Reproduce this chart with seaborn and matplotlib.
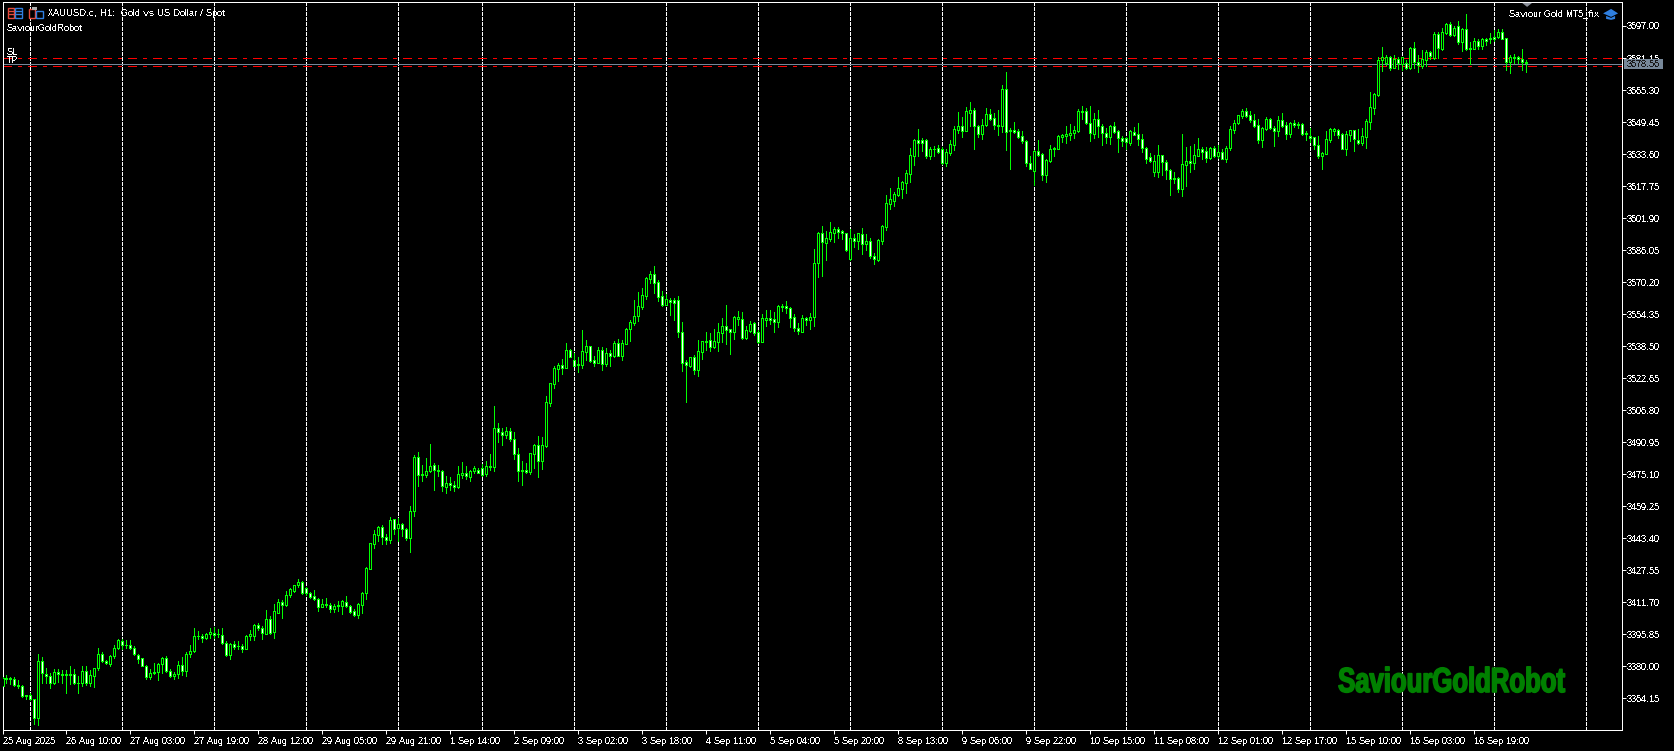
import matplotlib
matplotlib.use("Agg")
import matplotlib.pyplot as plt
from matplotlib.patches import Polygon, Rectangle
from matplotlib.patheffects import AbstractPathEffect
from matplotlib.transforms import Affine2D
import numpy as np
import pandas as pd
import seaborn as sns

# ------------------------------
# XAUUSD.c H1 candles
# ------------------------------
open_prices = [
    3370.1,3374.4,3374.2,3373.9,3370.9,3370.4,3365.6,3366.0,3364.0,3354.6,
    3382.8,3376.2,3375.4,3371.7,3377.2,3376.4,3376.4,3376.4,3376.4,3371.9,
    3371.7,3377.5,3371.7,3375.4,3379.0,3386.3,3382.8,3381.3,3384.9,3389.2,
    3392.7,3390.7,3390.7,3389.2,3385.8,3384.0,3380.2,3374.7,3376.7,3377.4,
    3381.0,3384.3,3377.9,3375.4,3376.2,3380.8,3377.7,3386.1,3387.6,3395.2,
    3395.2,3393.9,3396.2,3396.7,3396.2,3395.7,3391.7,3385.4,3391.2,3390.2,
    3390.2,3388.6,3395.2,3394.9,3400.6,3399.0,3396.2,3403.6,3397.0,3406.6,
    3412.0,3410.4,3415.2,3417.1,3420.0,3421.9,3418.5,3416.5,3414.7,3413.5,
    3409.4,3411.0,3410.5,3408.2,3409.9,3409.9,3412.0,3409.9,3407.2,3405.6,
    3410.2,3416.5,3428.2,3440.6,3444.9,3448.7,3443.8,3442.4,3452.7,3448.6,
    3450.2,3447.7,3443.6,3457.0,3483.4,3475.0,3474.8,3476.8,3479.4,3477.4,
    3476.8,3468.9,3470.5,3469.9,3468.7,3474.8,3475.5,3473.8,3476.8,3477.4,
    3477.9,3475.1,3478.9,3478.8,3497.8,3495.8,3494.6,3496.3,3492.6,3485.2,
    3477.4,3477.4,3476.3,3485.2,3489.7,3481.7,3489.0,3510.5,3519.9,3527.3,
    3528.9,3527.6,3536.8,3531.4,3529.4,3529.3,3535.7,3538.3,3531.4,3530.2,
    3536.8,3529.6,3534.9,3533.5,3539.8,3533.7,3539.7,3547.1,3550.1,3553.4,
    3558.0,3563.4,3571.8,3574.0,3570.0,3563.1,3559.0,3561.4,3561.3,3561.1,
    3545.6,3530.6,3528.6,3533.0,3526.8,3535.7,3541.0,3541.3,3538.2,3540.6,
    3545.1,3548.2,3546.8,3545.6,3552.0,3552.0,3542.5,3545.9,3549.7,3545.3,
    3540.6,3551.5,3552.2,3552.0,3550.6,3557.8,3558.1,3557.5,3552.7,3547.6,
    3545.6,3552.2,3551.5,3553.0,3579.8,3594.3,3589.7,3591.7,3594.6,3596.5,
    3595.3,3594.3,3581.8,3591.8,3590.5,3593.8,3589.0,3590.3,3582.9,3581.1,
    3590.7,3597.6,3609.0,3610.3,3613.5,3616.4,3619.4,3623.9,3632.8,3640.4,
    3640.4,3640.4,3632.7,3636.3,3636.4,3636.0,3629.3,3634.3,3638.1,3645.7,
    3647.3,3645.2,3653.9,3655.3,3647.3,3643.7,3647.7,3653.3,3651.3,3647.2,
    3647.2,3665.7,3645.4,3645.4,3645.0,3642.4,3639.9,3629.0,3625.4,3634.9,
    3633.5,3623.4,3630.2,3636.0,3636.3,3642.2,3642.7,3643.2,3643.9,3645.0,
    3654.4,3654.9,3648.8,3643.7,3650.8,3647.5,3644.2,3642.1,3647.3,3644.9,
    3641.4,3641.7,3638.9,3644.4,3643.4,3640.9,3636.8,3632.0,3624.9,3624.7,
    3633.0,3629.8,3625.7,3621.8,3621.8,3616.5,3628.2,3630.0,3628.9,3632.8,
    3636.0,3635.0,3631.8,3636.4,3632.7,3634.5,3631.2,3636.4,3645.7,3648.7,
    3652.6,3654.8,3652.8,3650.3,3647.8,3640.6,3646.0,3650.8,3646.7,3644.9,
    3650.3,3647.8,3643.7,3648.8,3648.5,3648.3,3643.8,3642.3,3641.9,3637.9,
    3632.8,3633.8,3640.7,3645.2,3645.3,3643.3,3636.1,3643.2,3645.3,3640.7,
    3639.0,3642.2,3649.6,3656.6,3662.8,3680.0,3678.5,3681.8,3676.4,3680.7,
    3678.2,3678.5,3676.4,3686.1,3679.0,3676.9,3680.2,3684.0,3681.0,3693.1,
    3685.8,3693.4,3698.0,3692.6,3697.0,3688.8,3695.4,3686.1,3685.8,3689.4,
    3687.1,3690.4,3690.4,3691.7,3691.4,3693.9,3690.9,3678.9,3681.8,3681.5,
    3680.5,3679.2,
]
high_prices = [
    3374.7,3375.9,3374.5,3374.9,3373.1,3370.6,3366.0,3367.0,3364.0,3386.3,
    3384.6,3379.0,3376.7,3378.8,3378.8,3378.0,3378.0,3380.0,3378.8,3375.0,
    3380.0,3380.0,3378.3,3379.3,3389.2,3387.3,3383.3,3385.6,3390.6,3393.4,
    3393.7,3392.9,3393.2,3389.9,3386.3,3384.3,3380.7,3378.8,3381.8,3381.6,
    3384.8,3385.0,3378.8,3377.2,3382.8,3384.6,3386.9,3390.4,3398.7,3397.3,
    3395.8,3396.5,3398.7,3399.5,3398.5,3398.7,3392.7,3391.6,3392.4,3392.4,
    3391.2,3395.4,3397.8,3401.0,3401.6,3399.8,3407.7,3404.8,3411.0,3413.5,
    3412.7,3417.3,3418.5,3420.1,3423.1,3422.3,3419.0,3416.7,3417.6,3414.0,
    3413.5,3413.7,3411.4,3410.7,3412.4,3412.7,3414.7,3410.5,3408.4,3411.4,
    3416.7,3428.9,3441.0,3447.4,3449.4,3449.9,3445.4,3453.7,3453.0,3453.2,
    3450.9,3448.2,3459.3,3484.5,3486.0,3479.4,3483.1,3490.0,3480.6,3479.4,
    3477.1,3474.1,3473.6,3471.7,3479.1,3481.1,3479.1,3477.4,3479.1,3477.9,
    3480.1,3481.4,3485.0,3508.8,3500.2,3497.8,3498.4,3497.8,3495.8,3488.0,
    3481.4,3480.6,3485.5,3490.0,3494.0,3493.3,3513.8,3520.2,3528.6,3529.9,
    3531.9,3540.0,3537.3,3534.9,3533.0,3546.4,3541.5,3538.5,3533.5,3537.8,
    3537.8,3537.5,3536.8,3540.8,3542.0,3541.3,3547.4,3551.4,3561.3,3565.2,
    3567.1,3572.7,3575.5,3578.1,3571.2,3565.7,3564.3,3562.1,3562.3,3563.3,
    3550.2,3531.6,3533.2,3534.0,3541.5,3541.0,3545.4,3544.9,3546.9,3549.9,
    3552.4,3558.8,3546.9,3553.2,3555.8,3555.3,3548.4,3550.9,3550.5,3546.6,
    3554.3,3556.3,3556.3,3555.3,3558.6,3559.3,3560.8,3557.8,3554.3,3549.7,
    3553.7,3552.9,3554.7,3586.5,3594.8,3598.0,3595.3,3599.8,3597.3,3597.6,
    3596.0,3594.6,3596.3,3593.8,3594.3,3597.0,3594.0,3591.8,3584.4,3591.3,
    3598.3,3613.3,3616.8,3614.8,3622.2,3620.4,3625.5,3636.6,3640.9,3646.0,
    3641.6,3641.1,3636.9,3637.6,3637.9,3636.9,3636.0,3640.6,3647.5,3654.4,
    3651.8,3656.8,3659.4,3656.3,3647.8,3650.8,3656.3,3655.8,3653.8,3655.4,
    3667.8,3674.1,3646.4,3649.5,3646.0,3645.2,3640.6,3632.5,3635.6,3640.6,
    3634.0,3631.2,3638.1,3636.9,3642.9,3643.5,3647.5,3648.5,3647.5,3655.8,
    3657.4,3656.3,3657.4,3653.8,3655.4,3648.5,3646.4,3648.0,3649.5,3645.5,
    3642.6,3642.2,3645.5,3646.8,3648.8,3643.5,3636.9,3634.0,3633.1,3638.1,
    3633.3,3630.7,3626.0,3624.7,3622.1,3643.5,3636.9,3637.6,3638.6,3641.4,
    3636.9,3636.9,3636.9,3637.6,3637.9,3636.0,3637.4,3647.5,3650.5,3653.1,
    3655.9,3656.4,3654.9,3653.5,3650.8,3646.8,3651.8,3651.3,3647.5,3652.5,
    3653.7,3649.3,3649.5,3650.4,3649.6,3648.8,3644.8,3646.5,3642.2,3642.5,
    3634.6,3645.0,3646.3,3646.6,3646.2,3643.8,3645.0,3645.5,3645.5,3646.0,
    3646.5,3650.9,3664.3,3663.6,3681.5,3686.5,3682.7,3682.3,3682.7,3681.5,
    3681.8,3680.2,3686.5,3689.1,3682.7,3685.1,3685.1,3684.8,3694.2,3694.2,
    3695.9,3698.3,3698.7,3696.7,3699.2,3695.9,3703.0,3688.8,3690.9,3690.4,
    3690.9,3691.2,3693.4,3695.0,3695.4,3695.4,3691.2,3682.7,3683.2,3682.2,
    3685.5,3680.2,
]
low_prices = [
    3370.1,3371.7,3371.4,3370.4,3369.4,3364.8,3363.7,3363.2,3351.6,3350.8,
    3371.7,3371.7,3369.1,3371.4,3372.2,3371.7,3366.8,3371.1,3371.1,3366.8,
    3370.1,3370.6,3370.1,3369.8,3378.0,3382.0,3381.0,3380.0,3384.3,3388.6,
    3388.3,3389.1,3388.6,3385.6,3381.6,3380.0,3373.7,3373.6,3376.0,3373.1,
    3376.7,3377.0,3374.7,3373.6,3374.1,3375.5,3375.4,3384.6,3387.1,3393.7,
    3392.0,3393.4,3394.0,3394.2,3394.4,3391.2,3384.9,3383.8,3388.6,3388.6,
    3386.9,3388.3,3393.2,3393.2,3397.8,3393.4,3395.8,3395.8,3393.9,3406.4,
    3403.9,3409.7,3414.3,3416.7,3419.3,3415.7,3415.2,3414.0,3412.7,3407.4,
    3409.1,3409.1,3406.7,3406.7,3407.4,3405.8,3409.4,3406.4,3404.8,3403.9,
    3406.4,3413.5,3428.1,3438.5,3442.0,3440.5,3440.5,3441.0,3445.4,3442.0,
    3444.4,3442.4,3436.5,3454.3,3469.2,3471.5,3473.6,3476.1,3467.2,3474.1,
    3466.7,3465.7,3467.2,3466.7,3468.2,3473.2,3472.5,3471.7,3475.8,3475.5,
    3474.3,3474.1,3477.4,3476.6,3491.0,3489.5,3493.0,3491.5,3482.6,3471.7,
    3469.7,3475.5,3475.1,3478.1,3473.6,3477.6,3488.5,3509.0,3517.7,3521.0,
    3524.6,3527.6,3532.9,3528.6,3525.6,3527.6,3531.6,3530.6,3528.8,3529.9,
    3526.6,3528.6,3528.6,3532.9,3533.4,3531.6,3539.5,3541.0,3548.9,3550.7,
    3556.7,3561.6,3569.7,3564.6,3560.8,3558.3,3558.6,3553.9,3551.4,3543.0,
    3526.1,3510.8,3527.9,3524.6,3523.6,3532.1,3536.5,3536.0,3537.5,3536.0,
    3540.5,3539.5,3534.5,3542.0,3548.9,3542.0,3542.0,3545.4,3543.8,3539.8,
    3540.5,3548.4,3549.4,3545.4,3547.9,3556.0,3554.8,3547.7,3545.9,3544.4,
    3545.3,3548.7,3547.2,3548.4,3572.9,3573.2,3581.1,3590.7,3590.0,3592.0,
    3591.7,3585.4,3581.1,3587.4,3586.4,3584.1,3586.1,3582.1,3579.1,3580.5,
    3589.0,3596.0,3606.4,3607.9,3613.0,3611.8,3614.3,3619.7,3628.2,3632.7,
    3635.1,3631.7,3631.2,3632.5,3634.0,3628.4,3627.7,3633.0,3635.6,3644.0,
    3642.1,3644.9,3647.5,3636.1,3641.9,3641.1,3647.2,3650.2,3646.0,3643.1,
    3644.7,3635.6,3626.2,3643.9,3641.7,3638.9,3627.7,3626.0,3618.3,3632.7,
    3620.8,3619.8,3629.8,3632.7,3636.0,3639.3,3638.9,3640.6,3641.6,3644.7,
    3650.8,3648.2,3639.8,3641.6,3642.2,3638.1,3639.1,3638.3,3644.2,3634.6,
    3637.6,3636.1,3638.1,3642.9,3638.1,3634.6,3629.3,3629.7,3622.7,3622.1,
    3623.2,3621.1,3613.3,3619.4,3614.8,3612.8,3617.8,3624.9,3626.2,3632.7,
    3631.2,3629.7,3631.0,3632.0,3631.5,3631.0,3629.7,3635.6,3643.9,3648.5,
    3651.3,3652.0,3649.5,3647.0,3639.1,3637.1,3645.5,3645.9,3637.6,3642.4,
    3647.1,3641.0,3641.9,3647.1,3646.5,3643.2,3640.5,3639.5,3636.1,3631.6,
    3626.2,3633.6,3639.5,3642.8,3641.5,3635.9,3633.1,3639.9,3635.1,3638.6,
    3638.2,3636.6,3646.0,3653.4,3662.5,3674.9,3677.7,3675.2,3676.1,3675.7,
    3675.2,3675.7,3675.7,3676.1,3674.2,3676.2,3677.2,3680.7,3680.5,3681.0,
    3685.1,3693.1,3692.1,3692.1,3688.1,3684.8,3685.1,3678.2,3685.5,3685.5,
    3685.5,3687.6,3688.4,3689.3,3691.1,3690.4,3675.2,3673.9,3678.5,3678.5,
    3675.2,3674.4,
]
close_prices = [
    3374.4,3373.9,3373.9,3370.9,3370.4,3365.5,3365.3,3364.0,3354.6,3382.8,
    3376.7,3375.4,3371.7,3377.2,3376.4,3375.7,3375.7,3375.9,3371.7,3371.7,
    3377.5,3371.7,3375.9,3379.3,3386.3,3382.5,3381.5,3385.3,3389.2,3393.2,
    3390.4,3390.4,3389.1,3386.1,3383.6,3380.2,3374.7,3376.9,3377.4,3381.3,
    3384.3,3377.5,3375.2,3376.4,3380.8,3377.7,3386.3,3387.8,3395.2,3394.9,
    3394.0,3396.2,3397.2,3395.7,3395.9,3391.6,3385.4,3391.2,3389.6,3389.9,
    3388.6,3395.2,3395.8,3400.6,3399.0,3396.5,3403.6,3396.5,3407.2,3412.0,
    3410.4,3415.5,3418.1,3420.0,3421.9,3416.2,3416.2,3414.3,3413.2,3409.4,
    3411.0,3410.2,3408.2,3410.0,3410.2,3412.2,3409.9,3406.9,3405.6,3410.7,
    3416.5,3428.4,3440.8,3445.3,3448.7,3443.8,3442.6,3452.2,3447.7,3450.2,
    3447.7,3443.6,3457.1,3483.4,3474.5,3474.5,3476.8,3478.9,3477.4,3476.9,
    3469.0,3470.5,3469.9,3468.9,3475.0,3475.5,3474.0,3476.9,3477.9,3475.8,
    3474.8,3478.9,3478.6,3497.8,3496.1,3494.6,3496.3,3492.6,3485.2,3476.5,
    3476.8,3476.3,3485.4,3489.5,3481.7,3489.3,3510.6,3520.0,3527.5,3528.9,
    3527.6,3536.8,3533.2,3528.8,3529.1,3535.9,3538.3,3531.2,3530.2,3536.8,
    3529.7,3534.9,3533.7,3540.0,3533.7,3540.0,3547.2,3550.2,3553.2,3558.1,
    3563.6,3572.2,3574.0,3569.9,3562.9,3559.0,3561.6,3560.1,3560.0,3545.6,
    3530.2,3528.9,3533.0,3526.8,3535.9,3540.8,3540.6,3538.2,3540.8,3545.3,
    3548.2,3546.6,3545.6,3552.7,3552.7,3542.5,3546.3,3549.4,3544.9,3540.6,
    3552.2,3552.2,3551.5,3550.6,3558.1,3558.1,3557.5,3552.2,3547.6,3545.8,
    3552.2,3551.5,3552.7,3579.8,3594.3,3589.9,3591.8,3594.8,3596.3,3595.1,
    3594.3,3586.1,3591.8,3590.5,3594.3,3589.0,3590.3,3583.3,3581.4,3590.9,
    3597.8,3609.2,3611.2,3613.6,3616.6,3619.6,3624.0,3633.0,3640.4,3638.9,
    3638.8,3632.8,3636.1,3636.0,3634.8,3628.9,3634.5,3638.4,3645.9,3647.3,
    3645.2,3654.8,3655.3,3647.3,3643.7,3647.8,3653.3,3651.0,3647.7,3647.8,
    3665.7,3644.7,3644.9,3644.5,3642.2,3639.8,3628.9,3626.4,3635.1,3633.3,
    3623.4,3630.7,3636.1,3636.4,3642.6,3642.9,3643.5,3643.9,3645.4,3654.9,
    3654.9,3648.7,3643.9,3650.8,3647.3,3644.2,3642.2,3647.3,3644.7,3641.7,
    3639.8,3639.3,3644.9,3643.2,3640.9,3636.8,3631.3,3630.3,3630.3,3633.0,
    3629.4,3625.9,3621.4,3621.4,3616.5,3628.5,3630.0,3629.0,3633.0,3636.0,
    3634.8,3631.8,3636.4,3632.8,3634.5,3631.3,3636.4,3645.9,3648.8,3652.8,
    3654.8,3652.6,3650.2,3647.3,3640.7,3646.4,3650.8,3646.4,3644.9,3650.3,
    3647.6,3643.5,3648.8,3648.1,3648.1,3643.7,3643.3,3641.5,3637.9,3632.6,
    3633.9,3640.9,3645.8,3645.8,3643.2,3636.2,3643.5,3645.3,3640.9,3639.2,
    3642.3,3649.8,3656.7,3663.3,3680.2,3681.5,3681.8,3676.4,3680.5,3678.4,
    3681.5,3676.2,3686.1,3678.9,3677.5,3680.5,3684.3,3682.3,3693.1,3686.0,
    3693.9,3697.8,3692.6,3695.9,3688.8,3695.4,3685.6,3685.6,3689.4,3687.1,
    3690.4,3689.4,3690.9,3690.4,3694.1,3690.7,3678.9,3681.8,3681.0,3680.5,
    3679.0,3678.56,
]

# bar index of each period separator
separator_bars = [7, 30, 53, 76, 99, 120, 143, 166, 189, 212, 235, 258, 281, 304, 327, 350, 373, 396]

price_ticks = [3697.00, 3681.15, 3665.30, 3649.45, 3633.60, 3617.75, 3601.90, 3586.05, 3570.20, 3554.35, 3538.50,
               3522.65, 3506.80, 3490.95, 3475.10, 3459.25, 3443.40, 3427.55, 3411.70, 3395.85, 3380.00, 3364.15]
time_labels = ["25 Aug 2025", "26 Aug 10:00", "27 Aug 03:00", "27 Aug 19:00", "28 Aug 12:00", "29 Aug 05:00",
               "29 Aug 21:00", "1 Sep 14:00", "2 Sep 09:00", "3 Sep 02:00", "3 Sep 18:00", "4 Sep 11:00",
               "5 Sep 04:00", "5 Sep 20:00", "8 Sep 13:00", "9 Sep 06:00", "9 Sep 22:00", "10 Sep 15:00",
               "11 Sep 08:00", "12 Sep 01:00", "12 Sep 17:00", "15 Sep 10:00", "16 Sep 03:00", "16 Sep 19:00"]
time_tick_step = 16

sl_price = 3680.9
tp_price = 3676.95
bid_line = 3677.95
bid_label = "3678.56"

LIME = "#00ff00"
RED = "#ff0000"
FONT = "Liberation Sans"
FS = 6.8
PX = 0.72  # one pixel in points at dpi 100


class Stretch(AbstractPathEffect):
    """Draw the text path taller and fatter, no condensed heavy font is installed."""

    def __init__(self, yscale, stroke):
        super().__init__()
        self.yscale = yscale
        self.stroke = stroke

    def draw_path(self, renderer, gc, tpath, affine, rgbFace):
        gc0 = renderer.new_gc()
        gc0.copy_properties(gc)
        gc0.set_foreground(rgbFace)
        gc0.set_linewidth(self.stroke)
        renderer.draw_path(gc0, tpath, Affine2D().scale(1, self.yscale) + affine, rgbFace)
        gc0.restore()


sns.set_theme(style="dark", rc={
    "axes.facecolor": "black",
    "figure.facecolor": "black",
    "text.color": "white",
    "xtick.color": "white",
    "ytick.color": "white",
    "axes.edgecolor": "white",
    "font.family": FONT,
    "text.antialiased": False,
    "text.hinting": "native",
    "text.hinting_factor": 1,
})

fig = plt.figure(figsize=(16.741, 7.511), dpi=100)
ax = fig.add_axes([2.5 / 1674, 1 - 730.5 / 751, 1619 / 1674, 728 / 751])

df = pd.DataFrame({"o": open_prices, "h": high_prices, "l": low_prices, "c": close_prices})
df["bar"] = np.arange(len(df))

# wicks
wicks = pd.concat([df[["bar", "h"]].rename(columns={"h": "price"}),
                   df[["bar", "l"]].rename(columns={"l": "price"})])
sns.lineplot(data=wicks, x="bar", y="price", units="bar", estimator=None, color=LIME,
             linewidth=PX, antialiased=False, solid_capstyle="butt", legend=False, ax=ax, zorder=3)

# bodies: white = bear, black = bull
top = df[["o", "c"]].max(axis=1)
bot = df[["o", "c"]].min(axis=1)
colors = np.where(df["c"] >= df["o"], "black", "white")
ax.bar(df["bar"], top - bot, bottom=bot, width=0.5, color=colors, edgecolor=LIME,
       linewidth=PX, antialiased=False, zorder=4)

for b in separator_bars:
    ax.axvline(b, color="white", linewidth=PX, linestyle=(0, (3, 2)), antialiased=False, zorder=1)
for p in (sl_price, tp_price):
    ax.axhline(p, color=RED, linewidth=PX, linestyle=(0, (9, 6, 3, 6)), antialiased=False, zorder=2)
ax.axhline(bid_line, color="#778899", linewidth=PX, antialiased=False, zorder=2)

ax.set_xlim(0.05, 404.8)
ax.set_ylim(3348.2, 3708.63)
ax.set_xlabel("")
ax.set_ylabel("")
ax.grid(False)

ax.set_xticks(np.arange(len(time_labels)) * time_tick_step)
ax.set_xticklabels(time_labels, ha="left", fontsize=FS)
ax.set_yticks(price_ticks)
ax.set_yticklabels([f"{p:.2f}" for p in price_ticks], fontsize=FS)
ax.tick_params(axis="x", bottom=True, length=3, width=PX, pad=1.5)
ax.tick_params(axis="y", left=False, labelleft=False, right=True, labelright=True, length=3, width=PX, pad=0.5)
for s in ax.spines.values():
    s.set_color("white")
    s.set_linewidth(PX)
    s.set_antialiased(False)

# overlay in screen pixels for terminal decorations
over = fig.add_axes([0, 0, 1, 1], facecolor="none")
over.set_xlim(0, 1674)
over.set_ylim(751, 0)
over.axis("off")

over.add_patch(Rectangle((1623.5, 59), 39.5, 10.5, facecolor="#778899", edgecolor="none", zorder=5))
over.text(1627, 64.5, bid_label, color="#1a1a1a", fontsize=FS, va="center", ha="left", zorder=6)

over.text(48, 13.5, "XAUUSD.c, H1:  Gold vs US Dollar / Spot", fontsize=FS, va="center")
over.text(7, 28.5, "SaviourGoldRobot", fontsize=FS, va="center")
over.text(7, 52.5, "SL", fontsize=FS, va="center")
over.text(7, 60.5, "TP", fontsize=FS, va="center")
over.text(1509, 14, "Saviour Gold MT5_fix", fontsize=FS, va="center")
over.text(1338, 692, "SaviourGoldRobot", color="#008000", fontsize=18.5, fontweight="bold", va="baseline",
          antialiased=True, path_effects=[Stretch(1.35, 1.2)])

# window icons
for x0, c in ((7.5, "#e84a3c"), (15, "#2f7fe0")):
    over.add_patch(Rectangle((x0, 8.5), 6.5, 9.5, facecolor="black", edgecolor=c, linewidth=1))
    for yy in (11.5, 14.5):
        over.plot([x0 + 1, x0 + 6], [yy, yy], color=c, linewidth=1)
over.add_patch(Rectangle((28.5, 9), 6.5, 9, facecolor="black", edgecolor="#e84a3c", linewidth=1))
over.add_patch(Rectangle((36, 11), 6.5, 7, facecolor="black", edgecolor="#2f7fe0", linewidth=1))
over.add_patch(Rectangle((32, 7), 5, 3, facecolor="#b0b0b0", edgecolor="none"))
# cap icon and one-click arrow
over.add_patch(Polygon([(1603, 13.5), (1611, 9), (1618, 13.5), (1611, 17)], facecolor="#2f7fe0", edgecolor="none"))
over.add_patch(Polygon([(1606, 16), (1606, 19), (1611, 20), (1615, 19), (1615, 16), (1611, 18)],
                       facecolor="#2f7fe0", edgecolor="none"))
over.add_patch(Polygon([(1522, 3), (1532, 3), (1527, 7)], facecolor="#8a8f99", edgecolor="none"))

fig.savefig("out.png", dpi=100, facecolor="black")
